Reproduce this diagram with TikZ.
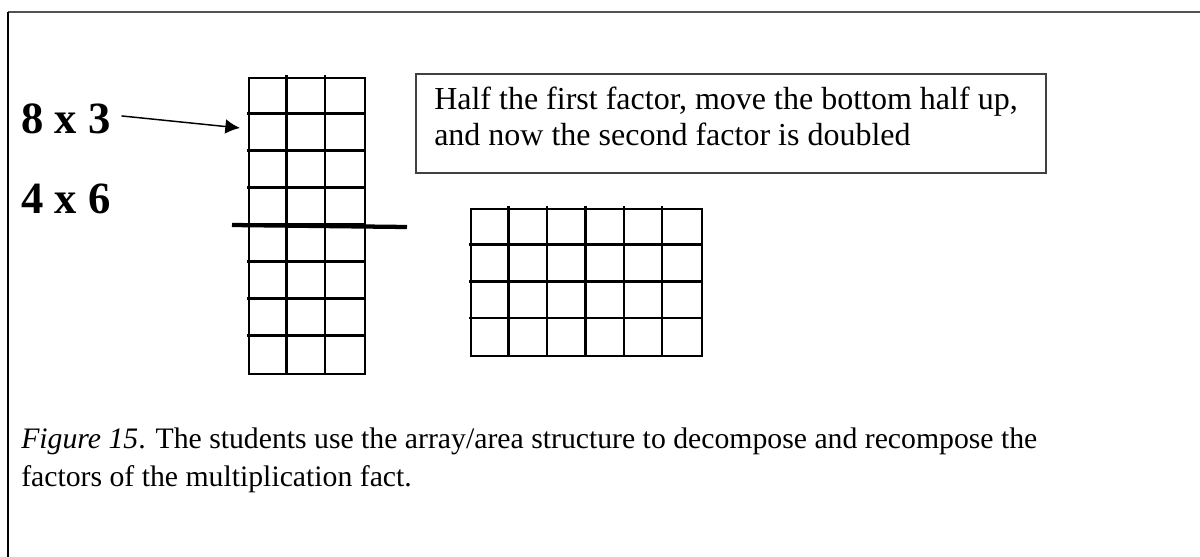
\documentclass[tikz,border=0pt]{standalone}
\usepackage{fontspec}
\setmainfont{Liberation Serif}
\usetikzlibrary{arrows.meta}
\begin{document}
\begin{tikzpicture}[x=0.75pt,y=-0.75pt,
  gridline/.style={line width=1.85pt, line cap=rect},
  frameline/.style={line width=1.2pt, draw=black!75},
  bigfact/.style={font=\bfseries\fontsize{33.5}{38}\selectfont, inner sep=0pt, anchor=base west},
  bodytext/.style={inner sep=0pt, anchor=base west, align=left},
  pointer/.style={line width=1.1pt, -{Latex[length=11pt, width=11pt]}}]
\useasboundingbox (0,0) rectangle (1200,557);

% page frame: top and left rules
\draw[line width=1.6pt, draw=black!68] (8,12) -- (1200,12);
\draw[line width=1.2pt, draw=black] (8,12) -- (8,557);

% factor labels
\node[bigfact] (eightbythree) at (21,133) {8 x 3};
\node[bigfact] (fourbysix) at (21,213) {4 x 6};

% tall array: 3 columns by 8 rows
\node[draw, gridline, inner sep=0pt, anchor=north west,
      minimum width=87pt, minimum height=222pt] (tall) at (248,76.7) {};
\foreach \i in {1,2} \draw[gridline] (248+38.6*\i,76.7) -- (248+38.6*\i,372.7);
\foreach \j in {1,...,7} \draw[gridline] (248,76.7+37*\j) -- (363.8,76.7+37*\j);

% cut line through the middle of the tall array
\draw[line width=3.2pt] (232,225) -- (407,227);

% arrow from the first fact to the array
\coordinate (tail) at ([xshift=8pt,yshift=12.8pt]eightbythree.base east);
\coordinate (tip) at (240,128);
\draw[pointer] (tail) -- (tip);

% note box (text anchored on its last baseline)
\node[draw, frameline, inner sep=0pt, anchor=north west,
      minimum width=472.5pt, minimum height=74.2pt] (notebox) at (415,73.3) {};
\node[bodytext, font=\fontsize{24}{27}\selectfont] (note) at (434,145)
  {Half the first factor, move the bottom half up,\\and now the second factor is doubled};

% wide array: 6 columns by 4 rows
\node[draw, gridline, inner sep=0pt, anchor=north west,
      minimum width=173pt, minimum height=110.4pt] (wide) at (470,207.7) {};
\foreach \i in {1,...,5} \draw[gridline] (470+38.45*\i,207.7) -- (470+38.45*\i,354.9);
\foreach \j in {1,2,3} \draw[gridline] (470,207.7+36.8*\j) -- (700.7,207.7+36.8*\j);

% caption (anchored on its last baseline)
\node[bodytext, font=\fontsize{22.3}{28.5}\selectfont] (caption) at (21,486)
  {\textit{Figure 15}. The students use the array/area structure to decompose and recompose the\\factors of the multiplication fact.};
\end{tikzpicture}
\end{document}
